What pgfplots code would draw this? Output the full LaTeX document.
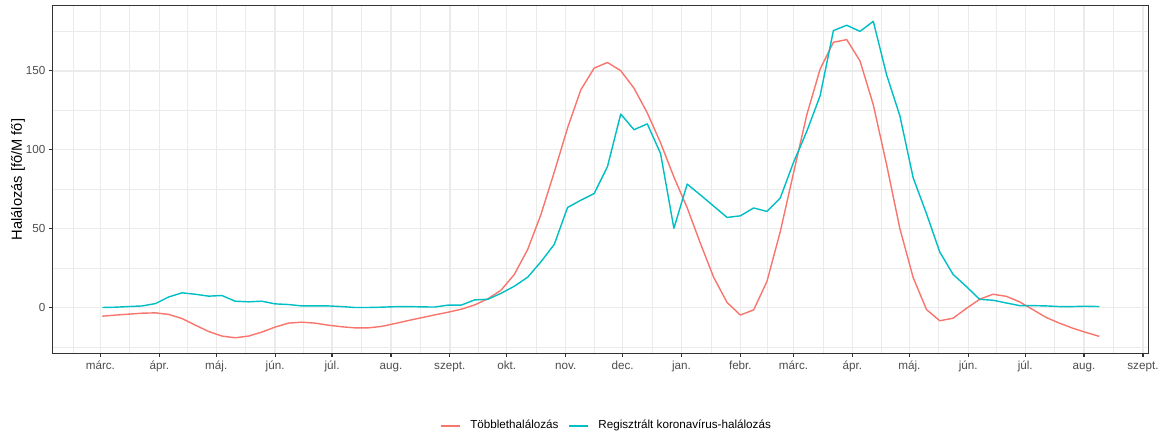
\documentclass[border=0pt]{standalone}
\usepackage{fontspec}
\setmainfont{Liberation Sans}
\usepackage{pgfplots}
\usepackage{pgfplotstable}
\pgfplotsset{compat=1.18}

\definecolor{excess}{HTML}{F8766D}
\definecolor{covid}{HTML}{00BFC4}
\definecolor{gridgray}{HTML}{EBEBEB}
\definecolor{framegray}{HTML}{333333}
\definecolor{ticktext}{HTML}{4D4D4D}

% Weekly mortality per million; day = days since 1 March 2020
\pgfplotstableread{
day excess covid
1   -5.5   0.0
8   -4.8   0.2
15  -4.2   0.6
22  -3.6   1.0
29  -3.4   2.5
36  -4.4   6.7
43  -7.0   9.3
50  -11.2  8.4
57  -15.2  7.2
64  -18.1  7.6
71  -19.2  4.0
78  -18.1  3.6
85  -15.6  4.0
92  -12.4  2.3
99  -9.9   1.9
106 -9.3   1.0
113 -9.9   1.0
120 -11.2  1.0
127 -12.2  0.6
134 -12.9  0.0
141 -12.9  0.0
148 -12.0  0.2
155 -10.2  0.5
162 -8.3   0.6
169 -6.5   0.4
176 -4.7   0.3
183 -3.0   1.5
190 -1.1   1.5
197 1.6    4.8
204 5.5    5.2
211 11.0   9.0
218 21.0   13.5
225 36.8   19.2
232 59.0   29.0
239 85.8   40.0
246 113.8  63.4
253 138.0  68.0
260 151.7  72.2
267 155.3  89.2
274 150.1  122.6
281 139.0  112.7
288 123.3  116.4
295 104.3  97.5
302 82.7   50.2
309 63.2   78.2
316 40.5   71.3
323 19.0   64.2
330 3.2    57.1
337 -4.8   58.1
344 -1.5   63.1
351 16.5   60.9
358 48.0   69.4
365 85.3   92.0
372 122.2  111.7
379 151.1  134.2
386 168.1  175.5
393 169.8  178.9
400 156.3  175.0
407 128.5  181.4
414 90.6   147.5
421 50.0   121.5
428 19.0   82.2
435 -1.3   59.5
442 -8.4   35.2
449 -6.8   21.0
456 -0.6   13.3
463 5.2    5.2
470 8.4    4.6
477 7.1    2.9
484 3.6    1.2
491 -1.3   1.2
498 -6.3   1.0
505 -9.9   0.6
512 -13.1  0.6
519 -15.8  0.8
526 -18.3  0.6
}\mortality

\begin{document}
\begin{tikzpicture}
\begin{axis}[
  scale only axis,
  width=1099.4pt, height=348.6pt,
  xmin=-25.4, xmax=552.1,
  ymin=-29.1, ymax=191.3,
  xtick={0,31,61,92,122,153,184,214,245,275,306,337,365,396,426,457,487,518,549},
  xticklabels={márc.,ápr.,máj.,jún.,júl.,aug.,szept.,okt.,nov.,dec.,jan.,febr.,márc.,ápr.,máj.,jún.,júl.,aug.,szept.},
  minor xtick={-14.5,15.5,46,76.5,107,137.5,168.5,199,229.5,260,290.5,321.5,351,380.5,411,441.5,472,502.5,533.5},
  ytick={0,50,100,150},
  minor ytick={-25,25,75,125,175},
  /pgf/number format/assume math mode=true,
  grid=both,
  major grid style={draw=gridgray, line width=1.42pt},
  minor grid style={draw=gridgray, line width=0.71pt},
  axis line style={draw=framegray, line width=1.2pt},
  tick align=outside,
  xtick pos=bottom, ytick pos=left,
  major tick length=3.67pt,
  minor tick length=0pt,
  major tick style={draw=framegray, line width=1.2pt},
  ticklabel style={font=\fontsize{11.7}{14}\selectfont, text=ticktext},
  yticklabel style={inner sep=2.9pt},
  xticklabel style={inner sep=2.5pt, text height=10pt, text depth=2.5pt},
  ylabel={Halálozás [fő/M fő]},
  ylabel style={font=\fontsize{14.7}{17}\selectfont, at={(axis description cs:-0.0312,0.5)}, anchor=center},
  legend columns=2,
  legend image code/.code={\draw[#1] (0pt,0pt) -- (19pt,0pt);},
  legend style={
    at={(axis description cs:0.5045,0)}, anchor=center, yshift=-72.7pt,
    draw=none, fill=none, inner sep=0pt, column sep=0pt,
    nodes={inner sep=0pt, anchor=west, text height=8.5pt, text depth=2.5pt, font=\fontsize{11.7}{14}\selectfont},
    /tikz/every odd column/.append style={column sep=10pt},
    /tikz/every even column/.append style={column sep=9.5pt},
  },
]
\addplot[excess, line width=1.42pt, line join=round] table[x=day, y=excess] {\mortality};
\addlegendentry{Többlethalálozás}
\addplot[covid, line width=1.42pt, line join=round] table[x=day, y=covid] {\mortality};
\addlegendentry{Regisztrált koronavírus-halálozás}
\end{axis}
\path (-52.3pt,-76.7pt) rectangle (1108.7pt,354.3pt);
\end{tikzpicture}
\end{document}
